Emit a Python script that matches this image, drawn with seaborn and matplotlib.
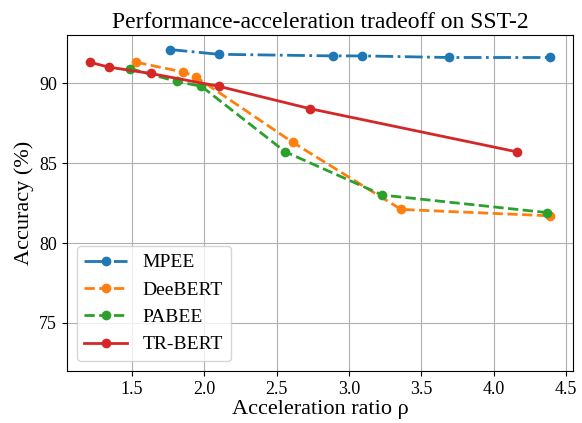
import matplotlib
matplotlib.use("Agg")
import matplotlib.pyplot as plt
import seaborn as sns
import pandas as pd

mpee_x = [1.76, 2.10, 2.89, 3.09, 3.69, 4.39]
mpee_y = [92.1, 91.8, 91.7, 91.7, 91.6, 91.6]

deebert_x = [1.53, 1.85, 1.94, 2.61, 3.36, 4.39]
deebert_y = [91.3, 90.7, 90.4, 86.3, 82.1, 81.7]

pabee_x = [1.49, 1.81, 1.98, 2.56, 3.23, 4.37]
pabee_y = [90.9, 90.1, 89.8, 85.7, 83.0, 81.9]

trbert_x = [1.21, 1.34, 1.63, 2.10, 2.73, 4.16]
trbert_y = [91.3, 91.0, 90.6, 89.8, 88.4, 85.7]

series = [
    ("MPEE", mpee_x, mpee_y, "-.", "#1f77b4"),
    ("DeeBERT", deebert_x, deebert_y, "--", "#ff7f0e"),
    ("PABEE", pabee_x, pabee_y, "--", "#2ca02c"),
    ("TR-BERT", trbert_x, trbert_y, "-", "#d62728"),
]

plt.rcParams["font.family"] = ["Liberation Serif", "DejaVu Serif"]
plt.rcParams["mathtext.fontset"] = "stix"

fig = plt.figure(figsize=(5.82, 4.23), dpi=100)
ax = fig.add_axes([0.115, 0.123, 0.870, 0.794])

for name, xs, ys, ls, col in series:
    df = pd.DataFrame({"x": xs, "y": ys})
    sns.lineplot(data=df, x="x", y="y", ax=ax, sort=False, marker="o",
                 markersize=7, markeredgewidth=0, linewidth=2, linestyle=ls,
                 color=col, label=name)

ax.set_ylim(72, 93)
ax.set_yticks([75, 80, 85, 90])
ax.set_xticks([1.5, 2.0, 2.5, 3.0, 3.5, 4.0, 4.5])
ax.grid(True, color="#b0b0b0", linewidth=0.8)
ax.set_axisbelow(True)
ax.tick_params(labelsize=13)
ax.set_xlabel("Acceleration ratio ρ", fontsize=16, labelpad=2)
ax.set_ylabel("Accuracy (%)", fontsize=16)
ax.set_title("Performance-acceleration tradeoff on SST-2", fontsize=17, pad=5)
ax.legend(loc="lower left", fontsize=14, framealpha=0.8, handlelength=2.2)

fig.savefig("out.png", dpi=100)
